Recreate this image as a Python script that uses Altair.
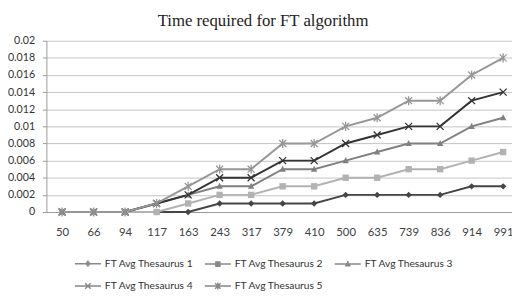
import altair as alt
import pandas as pd

categories = ["50", "66", "94", "117", "163", "243", "317", "379", "410", "500", "635", "739", "836", "914", "991"]
series_names = ["FT Avg Thesaurus 1", "FT Avg Thesaurus 2", "FT Avg Thesaurus 3", "FT Avg Thesaurus 4", "FT Avg Thesaurus 5"]
s1 = [0, 0, 0, 0, 0, 0.001, 0.001, 0.001, 0.001, 0.002, 0.002, 0.002, 0.002, 0.003, 0.003]
s2 = [0, 0, 0, 0, 0.001, 0.002, 0.002, 0.003, 0.003, 0.004, 0.004, 0.005, 0.005, 0.006, 0.007]
s3 = [0, 0, 0, 0.001, 0.002, 0.003, 0.003, 0.005, 0.005, 0.006, 0.007, 0.008, 0.008, 0.010, 0.011]
s4 = [0, 0, 0, 0.001, 0.002, 0.004, 0.004, 0.006, 0.006, 0.008, 0.009, 0.010, 0.010, 0.013, 0.014]
s5 = [0, 0, 0, 0.001, 0.003, 0.005, 0.005, 0.008, 0.008, 0.010, 0.011, 0.013, 0.013, 0.016, 0.018]
y_ticks = [0, 0.002, 0.004, 0.006, 0.008, 0.01, 0.012, 0.014, 0.016, 0.018, 0.02]

colors = ["#454545", "#b2b2b2", "#808080", "#333333", "#969696"]
marker_paths = [
    "M0,-1L1,0L0,1L-1,0Z",
    "M-1,-1L1,-1L1,1L-1,1Z",
    "M0,-1.1L1,0.8L-1,0.8Z",
    "M-1,-1L1,1M-1,1L1,-1",
    "M-1,-1L1,1M-1,1L1,-1M0,-1.3L0,1.3",
]
LINE = "M-3.3,0L3.3,0"
legend_paths = [
    LINE + "M-0.15,-0.6L0.15,-0.6M-0.45,-0.3L0.45,-0.3M-0.45,0.3L0.45,0.3M-0.15,0.6L0.15,0.6M0,-0.8L0,0.8",
    LINE + "M-0.7,-0.55L0.7,-0.55M-0.7,-0.2L0.7,-0.2M-0.7,0.2L0.7,0.2M-0.7,0.55L0.7,0.55",
    LINE + "M-0.2,-0.45L0.2,-0.45M-0.37,-0.15L0.37,-0.15M-0.54,0.15L0.54,0.15M-0.71,0.45L0.71,0.45M0,-0.8L0,0.6",
    LINE + "M-0.7,-0.7L0.7,0.7M-0.7,0.7L0.7,-0.7",
    LINE + "M-0.7,-0.7L0.7,0.7M-0.7,0.7L0.7,-0.7M0,-0.9L0,0.9",
]

rows = []
for name, vals in zip(series_names, [s1, s2, s3, s4, s5]):
    for i, (c, v) in enumerate(zip(categories, vals)):
        rows.append({"x": c, "y": v, "series": name, "order": i})
df = pd.DataFrame(rows)

x_enc = alt.X("x:O", sort=categories, title=None,
              scale=alt.Scale(type="point", padding=0.39, align=0.64),
              axis=alt.Axis(labelAngle=0, tickSize=0, labelPadding=15, domainColor="#999999",
                            labelFont="Lato", labelFontSize=11.5, labelColor="#404040", grid=False))
y_enc = alt.Y("y:Q", title=None,
              scale=alt.Scale(domain=[0, 0.02], nice=False),
              axis=alt.Axis(values=y_ticks, format="~g", tickSize=4, tickColor="#999999",
                            labelPadding=8,
                            domainColor="#999999", gridColor="#c4c4c4", gridWidth=1,
                            labelFont="Lato", labelFontSize=10.8, labelColor="#333333"))
color_enc = alt.Color("series:N", scale=alt.Scale(domain=series_names, range=colors), legend=None)

lines = alt.Chart(df).mark_line(strokeWidth=2).encode(
    x=x_enc, y=y_enc, color=color_enc, detail="series:N", order="order:Q")

filled_pts = alt.Chart(df).transform_filter(
    alt.FieldOneOfPredicate(field="series", oneOf=series_names[:3])
).mark_point(filled=True, opacity=1, size=42).encode(
    x=x_enc, y=y_enc, color=color_enc,
    shape=alt.Shape("series:N", scale=alt.Scale(domain=series_names, range=marker_paths), legend=None))

stroke_pts = alt.Chart(df).transform_filter(
    alt.FieldOneOfPredicate(field="series", oneOf=series_names[3:])
).mark_point(filled=False, opacity=1, size=50, strokeWidth=1.3).encode(
    x=x_enc, y=y_enc, color=color_enc,
    shape=alt.Shape("series:N", scale=alt.Scale(domain=series_names, range=marker_paths), legend=None))

legend_layer = alt.Chart(df).transform_filter("false").mark_point(
    filled=False, opacity=1, strokeWidth=1.5).encode(
    stroke=alt.Stroke("series:N", scale=alt.Scale(domain=series_names, range=colors), title=None),
    shape=alt.Shape("series:N", scale=alt.Scale(domain=series_names, range=legend_paths), title=None),
)

chart = alt.layer(lines, filled_pts, stroke_pts, legend_layer).resolve_scale(
    shape="independent"
).properties(
    width=473, height=174,
    autosize=alt.AutoSizeParams(type="none"),
    padding={"left": 39, "top": 31, "right": 0, "bottom": 78},
    title=alt.TitleParams("Time required for FT algorithm", font="Liberation Serif",
                          fontSize=17, fontWeight="normal", color="#222222",
                          anchor="start", frame="group", offset=5, dx=113),
).configure_view(stroke=None).configure_legend(
    orient="none", legendX=37, legendY=221, columns=3, direction="horizontal",
    symbolSize=64, symbolStrokeWidth=1.5,
    labelFont="Lato", labelFontSize=10.4, labelColor="#333333", labelOffset=12,
    columnPadding=8, rowPadding=9, titleFontSize=0,
)

chart.save("out.html", embed_options={"renderer": "svg", "actions": False})
